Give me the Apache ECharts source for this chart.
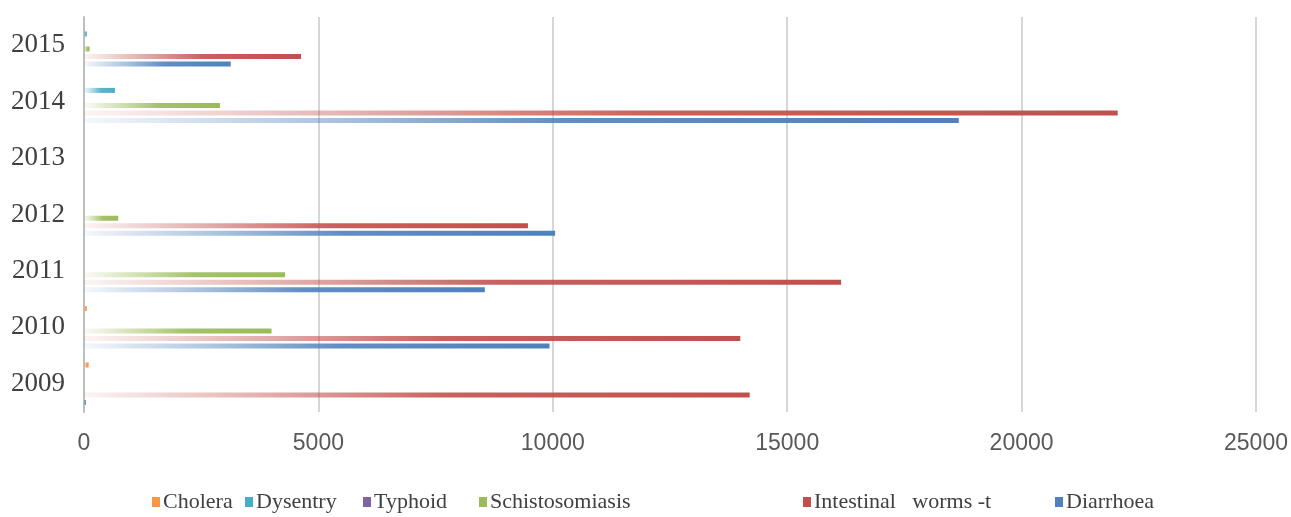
<!DOCTYPE html>
<html>
<head>
<meta charset="utf-8">
<title>Disease cases 2009-2015</title>
<script src="https://cdn.jsdelivr.net/npm/echarts@6/dist/echarts.min.js"></script>
<style>
  html, body { margin: 0; padding: 0; background: #ffffff; }
  #chart { width: 1291px; height: 517px; }
</style>
</head>
<body>
<div id="chart"></div>
<script>
// Reported cases per year
const years = ['2009', '2010', '2011', '2012', '2013', '2014', '2015'];
const cholera = [100, 60, 0, 0, 0, 0, 0];
const dysentry = [0, 0, 0, 0, 0, 660, 60];
const typhoid = [0, 0, 0, 0, 0, 0, 0];
const schistosomiasis = [0, 4000, 4290, 730, 0, 2900, 120];
const intestinalWorms = [14200, 14000, 16150, 9470, 0, 22050, 4630];
const diarrhoea = [40, 9930, 8550, 10050, 0, 18660, 3130];
const xTicks = [0, 5000, 10000, 15000, 20000, 25000];

const seriesDefs = [
  { name: 'Cholera', data: cholera, rgb: [247, 150, 70] },
  { name: 'Dysentry', data: dysentry, rgb: [75, 172, 198] },
  { name: 'Typhoid', data: typhoid, rgb: [128, 100, 162] },
  { name: 'Schistosomiasis', data: schistosomiasis, rgb: [155, 187, 89] },
  { name: 'Intestinal   worms -t', data: intestinalWorms, rgb: [192, 80, 77] },
  { name: 'Diarrhoea', data: diarrhoea, rgb: [79, 129, 189] }
];

function rgba(c, a) { return 'rgba(' + c[0] + ',' + c[1] + ',' + c[2] + ',' + a + ')'; }

// bars fade in from the axis towards their full colour
function fade(c) {
  return new echarts.graphic.LinearGradient(0, 0, 1, 0, [
    { offset: 0, color: rgba(c, 0.06) },
    { offset: 0.3, color: rgba(c, 0.5) },
    { offset: 0.55, color: rgba(c, 0.9) },
    { offset: 1, color: rgba(c, 1) }
  ]);
}

// first series sits at the top of each year group
const series = seriesDefs.map(function (s) {
  return {
    name: s.name,
    type: 'bar',
    data: s.data,
    barWidth: 5,
    barGap: '50%',
    itemStyle: { color: fade(s.rgb) },
    emphasis: { disabled: true }
  };
});

const legendX = [147, 240, 358, 474, 798, 1050];
const legends = seriesDefs.map(function (s, i) {
  return {
    data: [{ name: s.name, itemStyle: { color: rgba(s.rgb, 1) } }],
    left: legendX[i],
    top: 486,
    itemWidth: 8,
    itemHeight: 10,
    itemGap: 4,
    icon: 'rect',
    selectedMode: false,
    textStyle: { fontFamily: "'Liberation Serif', 'DejaVu Serif', serif", fontSize: 22, color: '#404040', padding: [0, 0, 0, -2] }
  };
});

const chart = echarts.init(document.getElementById('chart'), null, { renderer: 'canvas' });
chart.setOption({
  animation: false,
  backgroundColor: '#ffffff',
  grid: { left: 84, right: 35, top: 17, bottom: 105, containLabel: false },
  legend: legends,
  xAxis: {
    type: 'value',
    min: xTicks[0],
    max: xTicks[xTicks.length - 1],
    interval: xTicks[1] - xTicks[0],
    axisLine: { show: false },
    axisTick: { show: false },
    splitLine: { show: true, lineStyle: { color: '#c9c9c9', width: 1.5 } },
    axisLabel: {
      margin: 20,
      formatter: function (v) { return String(v); },
      fontFamily: "'Liberation Sans Narrow', 'Liberation Sans', sans-serif",
      fontSize: 23,
      color: '#595959'
    }
  },
  yAxis: {
    type: 'category',
    data: years,
    axisLine: { show: true, lineStyle: { color: '#bfbfbf', width: 2 } },
    axisTick: { show: false },
    axisLabel: {
      margin: 19,
      fontFamily: "'Liberation Serif', 'DejaVu Serif', serif",
      fontSize: 27,
      color: '#404040'
    }
  },
  series: series
});
</script>
</body>
</html>
